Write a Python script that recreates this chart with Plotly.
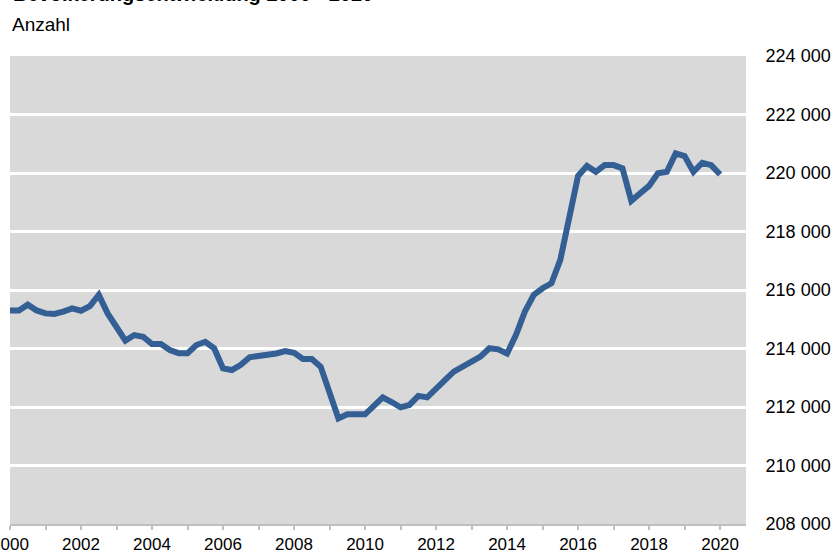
import plotly.graph_objects as go

# Quarterly population values, 2000 Q1 .. 2020 Q1
quarters = [2000 + i / 4 for i in range(81)]
population = [
    215300, 215300, 215500, 215300, 215200, 215180, 215260, 215370, 215290, 215450,
    215830, 215200, 214735, 214270, 214460, 214400, 214150, 214150, 213950, 213840,
    213840, 214120, 214230, 214010, 213320, 213265, 213440, 213700, 213745, 213780,
    213830, 213915, 213850, 213640, 213640, 213380, 212510, 211610, 211750, 211750,
    211750, 212040, 212330, 212170, 211990, 212070, 212380, 212330, 212650, 212920,
    213210, 213400, 213580, 213720, 214010, 213970, 213830, 214460, 215260, 215830,
    216060, 216230, 217030, 218510, 219900, 220240, 220040, 220270, 220270, 220160,
    219050, 219310, 219560, 219990, 220040, 220670, 220580, 220040, 220350, 220270,
    219950,
]

x_tick_vals = list(range(2000, 2021))
x_tick_text = [str(y) if y % 2 == 0 else "" for y in x_tick_vals]
y_tick_vals = list(range(208000, 224001, 2000))
y_tick_text = [f"{v // 1000} 000" for v in y_tick_vals]

title_text = "<b>Bevölkerungsentwicklung 2000 - 2020</b>"
subtitle_text = "Anzahl"

FONT = "Liberation Sans, Arial, sans-serif"

fig = go.Figure()
fig.add_trace(go.Scatter(
    x=quarters, y=population, mode="lines",
    line=dict(color="#335f94", width=6),
    hoverinfo="skip", showlegend=False,
))

fig.update_layout(
    width=838, height=552,
    margin=dict(l=10, r=92, t=56, b=28),
    paper_bgcolor="white",
    plot_bgcolor="#d9d9d9",
    font=dict(family=FONT, size=17, color="black"),
    xaxis=dict(
        range=[2000, 2020.73],
        tickmode="array", tickvals=x_tick_vals, ticktext=x_tick_text,
        ticks="outside", ticklen=4, tickwidth=1.5, tickcolor="#bfbfbf",
        showgrid=False, zeroline=False,
        showline=True, linecolor="#bfbfbf", linewidth=2,
        tickfont=dict(size=17),
        ticklabeloverflow="allow",
        automargin=False,
    ),
    yaxis=dict(
        side="right",
        range=[208000, 224000],
        tickmode="array", tickvals=y_tick_vals, ticktext=y_tick_text,
        showgrid=True, gridcolor="white", gridwidth=2.5,
        zeroline=False, showline=False,
        ticks="outside", ticklen=15, tickcolor="rgba(0,0,0,0)",
        tickfont=dict(size=18),
        ticklabeloverflow="allow",
        automargin=False,
    ),
    annotations=[
        dict(text=title_text, xref="paper", yref="paper", x=0.0, y=1 + (56 - 7) / 468,
             xanchor="left", yanchor="bottom", showarrow=False,
             xshift=1, font=dict(size=20, family=FONT)),
        dict(text=subtitle_text, xref="paper", yref="paper", x=0.0, y=1 + (56 - 24) / 468,
             xanchor="left", yanchor="middle", showarrow=False,
             xshift=0, font=dict(size=19, family=FONT)),
    ],
)

fig.write_html("out.html")
